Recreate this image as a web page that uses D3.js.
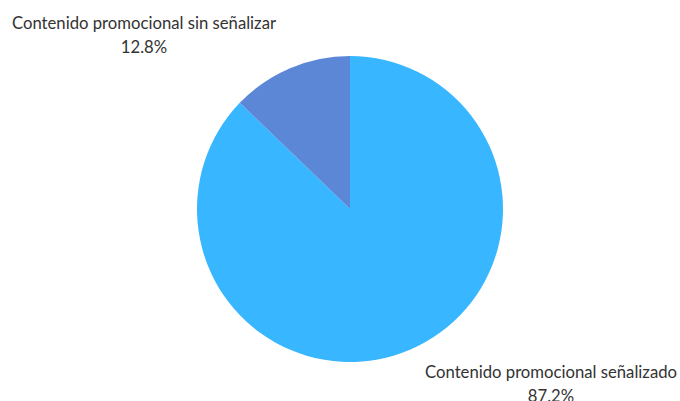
<!DOCTYPE html>
<html>
<head>
<meta charset="utf-8">
<script src="https://cdn.jsdelivr.net/npm/d3@7"></script>
<style>
  html, body { margin: 0; padding: 0; background: #ffffff; }
  svg { display: block; }
  text { font-family: "Source Sans Pro", Lato, "Noto Sans", sans-serif; font-size: 16.7px; fill: #333333; }
</style>
</head>
<body>
<svg id="chart" width="680" height="401"></svg>
<script>
// Share of promotional content, by whether it is labelled
const categories = ["Contenido promocional señalizado", "Contenido promocional sin señalizar"];
const shares = [87.2, 12.8];
const sliceColors = ["#38b6ff", "#5b87d6"];

const width = 680, height = 401;
const cx = 350, cy = 209, radius = 153;

const svg = d3.select("#chart");
const data = categories.map((c, i) => ({ name: c, value: shares[i], color: sliceColors[i] }));

const pie = d3.pie().value(d => d.value).sort(null);
const arc = d3.arc().innerRadius(0).outerRadius(radius);
const arcs = pie(data);

const g = svg.append("g").attr("transform", `translate(${cx},${cy})`);
g.selectAll("path")
  .data(arcs)
  .join("path")
  .attr("d", arc)
  .attr("fill", d => d.data.color);

const fmt = v => v.toFixed(1) + "%";

// Large slice is labelled at the lower right, the small one at the upper left
arcs.forEach(a => {
  const big = (a.endAngle - a.startAngle) > Math.PI;
  const x = big ? cx + radius + 48 : cx - radius - 53;
  const baseY = big ? 378 : 29;
  const t = svg.append("text")
    .attr("x", x)
    .attr("y", baseY)
    .attr("text-anchor", "middle");
  t.append("tspan").attr("x", x).text(a.data.name);
  t.append("tspan").attr("x", x).attr("dy", 24).text(fmt(a.data.value));
});
</script>
</body>
</html>
